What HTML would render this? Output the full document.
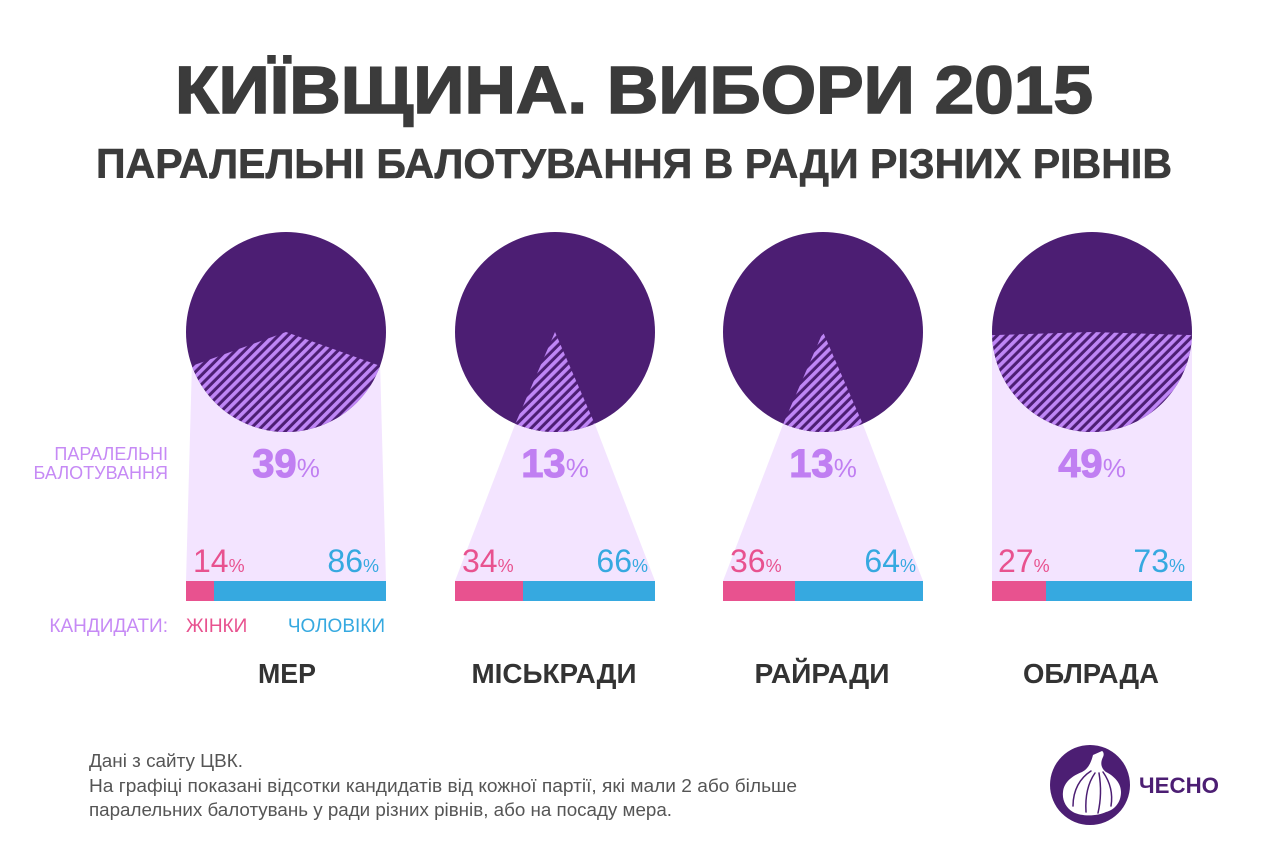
<!DOCTYPE html>
<html>
<head>
<meta charset="utf-8">
<style>
html,body{margin:0;padding:0;background:#ffffff;}
svg{display:block;}
text{font-family:"Liberation Sans","DejaVu Sans",sans-serif;}
</style>
</head>
<body>
<svg width="1267" height="860" viewBox="0 0 1267 860" xmlns="http://www.w3.org/2000/svg">
<defs>
  <pattern id="hatch" patternUnits="userSpaceOnUse" width="6.6" height="6.6" patternTransform="rotate(45)">
    <rect x="0" y="0" width="6.6" height="6.6" fill="#4c1e73"/>
    <rect x="0" y="0" width="3.6" height="6.6" fill="#bf86f6"/>
  </pattern>
</defs>
<rect x="0" y="0" width="1267" height="860" fill="#ffffff"/>

<!-- Titles -->
<text x="175" y="113" font-size="67" font-weight="bold" fill="#3b3b3b" stroke="#3b3b3b" stroke-width="1.6" textLength="918" lengthAdjust="spacingAndGlyphs">КИЇВЩИНА. ВИБОРИ 2015</text>
<text x="96" y="178" font-size="42" font-weight="bold" fill="#3b3b3b" stroke="#3b3b3b" stroke-width="0.6" textLength="1076" lengthAdjust="spacingAndGlyphs">ПАРАЛЕЛЬНІ БАЛОТУВАННЯ В РАДИ РІЗНИХ РІВНІВ</text>

<!-- Light trapezoids -->
<polygon points="191.9,365.9 380.1,365.9 386,581 186,581" fill="#f3e4ff"/>
<polygon points="515.3,423.8 594.7,423.8 655,581 455,581" fill="#f3e4ff"/>
<polygon points="783.3,423.8 862.7,423.8 923,581 723,581" fill="#f3e4ff"/>
<polygon points="992,335 1192,335 1192,581 992,581" fill="#f3e4ff"/>

<!-- Circles -->
<circle cx="286" cy="332" r="100" fill="#4c1e73"/>
<path d="M286,332 L191.9,365.9 A100,100 0 0,0 380.1,365.9 Z" fill="url(#hatch)"/>

<circle cx="555" cy="332" r="100" fill="#4c1e73"/>
<path d="M555,332 L515.3,423.8 A100,100 0 0,0 594.7,423.8 Z" fill="url(#hatch)"/>

<circle cx="823" cy="332" r="100" fill="#4c1e73"/>
<path d="M823,332 L783.3,423.8 A100,100 0 0,0 862.7,423.8 Z" fill="url(#hatch)"/>

<circle cx="1092" cy="332" r="100" fill="#4c1e73"/>
<path d="M1092,332 L992.05,335.1 A100,100 0 0,0 1191.95,335.1 Z" fill="url(#hatch)"/>

<!-- Big percents -->
<g fill="#c07ff2">
  <text x="286" y="477" text-anchor="middle"><tspan font-size="40" font-weight="bold" stroke="#c07ff2" stroke-width="1">39</tspan><tspan font-size="26">%</tspan></text>
  <text x="555" y="477" text-anchor="middle"><tspan font-size="40" font-weight="bold" stroke="#c07ff2" stroke-width="1">13</tspan><tspan font-size="26">%</tspan></text>
  <text x="823" y="477" text-anchor="middle"><tspan font-size="40" font-weight="bold" stroke="#c07ff2" stroke-width="1">13</tspan><tspan font-size="26">%</tspan></text>
  <text x="1092" y="477" text-anchor="middle"><tspan font-size="40" font-weight="bold" stroke="#c07ff2" stroke-width="1">49</tspan><tspan font-size="26">%</tspan></text>
</g>

<!-- Left legend -->
<g fill="#c68af5" font-size="18" text-anchor="end">
  <text x="168" y="460">ПАРАЛЕЛЬНІ</text>
  <text x="168" y="479">БАЛОТУВАННЯ</text>
  <text x="168" y="632" font-size="19">КАНДИДАТИ:</text>
</g>
<text x="186" y="632" font-size="19" fill="#e8528f">ЖІНКИ</text>
<text x="385" y="632" font-size="19" fill="#36a9e0" text-anchor="end">ЧОЛОВІКИ</text>

<!-- Small percents -->
<g font-size="32">
  <text x="193" y="572" fill="#e8528f">14<tspan font-size="18">%</tspan></text>
  <text x="379" y="572" fill="#36a9e0" text-anchor="end">86<tspan font-size="18">%</tspan></text>
  <text x="462" y="572" fill="#e8528f">34<tspan font-size="18">%</tspan></text>
  <text x="648" y="572" fill="#36a9e0" text-anchor="end">66<tspan font-size="18">%</tspan></text>
  <text x="730" y="572" fill="#e8528f">36<tspan font-size="18">%</tspan></text>
  <text x="916" y="572" fill="#36a9e0" text-anchor="end">64<tspan font-size="18">%</tspan></text>
  <text x="998" y="572" fill="#e8528f">27<tspan font-size="18">%</tspan></text>
  <text x="1185" y="572" fill="#36a9e0" text-anchor="end">73<tspan font-size="18">%</tspan></text>
</g>

<!-- Bars -->
<rect x="186" y="581" width="200" height="20" fill="#36a9e0"/>
<rect x="186" y="581" width="28" height="20" fill="#e8528f"/>
<rect x="455" y="581" width="200" height="20" fill="#36a9e0"/>
<rect x="455" y="581" width="68" height="20" fill="#e8528f"/>
<rect x="723" y="581" width="200" height="20" fill="#36a9e0"/>
<rect x="723" y="581" width="72" height="20" fill="#e8528f"/>
<rect x="992" y="581" width="200" height="20" fill="#36a9e0"/>
<rect x="992" y="581" width="54" height="20" fill="#e8528f"/>

<!-- Category labels -->
<g font-size="28" font-weight="bold" fill="#333333" text-anchor="middle">
  <text x="287" y="683" textLength="58" lengthAdjust="spacingAndGlyphs">МЕР</text>
  <text x="554" y="683" textLength="165" lengthAdjust="spacingAndGlyphs">МІСЬКРАДИ</text>
  <text x="822" y="683" textLength="135" lengthAdjust="spacingAndGlyphs">РАЙРАДИ</text>
  <text x="1091" y="683" textLength="136" lengthAdjust="spacingAndGlyphs">ОБЛРАДА</text>
</g>

<!-- Footer -->
<g font-size="18" fill="#555555">
  <text x="89" y="767" textLength="154" lengthAdjust="spacingAndGlyphs">Дані з сайту ЦВК.</text>
  <text x="89" y="792" textLength="708" lengthAdjust="spacingAndGlyphs">На графіці показані відсотки кандидатів від кожної партії, які мали 2 або більше</text>
  <text x="89" y="816" textLength="583" lengthAdjust="spacingAndGlyphs">паралельних балотувань у ради різних рівнів, або на посаду мера.</text>
</g>

<!-- Logo -->
<circle cx="1090" cy="785" r="40" fill="#4c1e73"/>
<path d="M1093,755 L1102,751 C1104,752 1104,755 1103,757 C1100,763 1101,768 1106,772 C1114,776 1121,783 1121,792 C1121,803 1114,810 1106,812 C1098,816 1082,817 1073,812 C1066,808 1062,800 1063,792 C1064,782 1072,776 1082,772 C1088,769 1091,763 1093,755 Z" fill="#ffffff"/>
<g fill="none" stroke="#4c1e73" stroke-width="1.5" stroke-linecap="round">
  <path d="M1091,771 C1080,778 1073,790 1073,806"/>
  <path d="M1095,773 C1088,783 1085,796 1086,812"/>
  <path d="M1099,773 C1101,785 1101,800 1098,813"/>
  <path d="M1103,772 C1110,782 1113,794 1111,806"/>
</g>
<text x="1139" y="793" font-size="22" font-weight="bold" fill="#4c1e73" textLength="80" lengthAdjust="spacingAndGlyphs">ЧЕСНО</text>
</svg>
</body>
</html>
